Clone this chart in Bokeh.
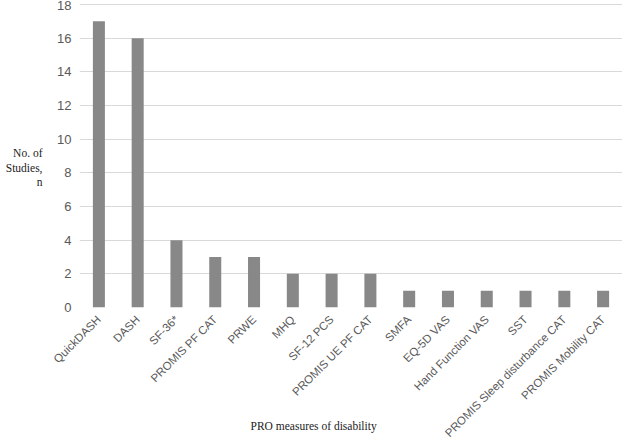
import math
from bokeh.plotting import figure
from bokeh.models import ColumnDataSource, FactorRange, Range1d, FixedTicker, LinearAxis
from bokeh.embed import file_html
from bokeh.resources import INLINE

measures = ["QuickDASH", "DASH", "SF-36*", "PROMIS PF CAT", "PRWE", "MHQ", "SF-12 PCS",
            "PROMIS UE PF CAT", "SMFA", "EQ-5D VAS", "Hand Function VAS", "SST",
            "PROMIS Sleep disturbance CAT", "PROMIS Mobility CAT"]
studies = [17, 16, 4, 3, 3, 2, 2, 2, 1, 1, 1, 1, 1, 1]
y_ticks = [0, 2, 4, 6, 8, 10, 12, 14, 16, 18]
y_title = "No. of\nStudies,\nn"
x_title = "PRO measures of disability"

src = ColumnDataSource(dict(x=measures, y=studies))

p = figure(width=622, height=443, x_range=FactorRange(*measures, range_padding=0),
           y_range=Range1d(0, 18.24), output_backend="svg", toolbar_location=None,
           min_border_left=79, min_border_right=0, min_border_top=0, min_border_bottom=136)
p.outline_line_color = None
p.vbar(x="x", top="y", width=0.31, source=src, fill_color="#888888", line_color=None)

p.xgrid.grid_line_color = None
p.ygrid.grid_line_color = "#d9d9d9"
p.ygrid.grid_line_width = 1
p.yaxis.ticker = FixedTicker(ticks=y_ticks)

title_axis = LinearAxis(ticker=FixedTicker(ticks=[8.3]),
                        major_label_overrides={8.3: y_title})
p.add_layout(title_axis, "left")

for ax in (p.xaxis[0], p.yaxis[0], title_axis):
    ax.axis_line_color = None
    ax.major_tick_line_color = None
    ax.minor_tick_line_color = None
    ax.major_label_text_color = "#595959"
    ax.major_label_text_font = "Liberation Sans"

title_axis.major_label_text_font = "Liberation Serif"
title_axis.major_label_text_color = "#222222"
title_axis.major_label_text_font_size = "11.5px"
title_axis.major_label_standoff = 6

p.yaxis[0].major_label_text_font_size = "13px"
p.yaxis[0].major_label_standoff = 2
p.xaxis.major_label_text_font_size = "11.5px"
p.xaxis.major_label_orientation = math.pi / 4
p.xaxis.major_label_standoff = 4
# trailing no-break spaces shift the centred title left, as in the reference
p.xaxis.axis_label = x_title + "\u00a0" * 26
p.xaxis.axis_label_text_font = "Liberation Serif"
p.xaxis.axis_label_text_font_style = "normal"
p.xaxis.axis_label_text_font_size = "11.5px"
p.xaxis.axis_label_text_color = "#222222"
p.xaxis.axis_label_standoff = -26

open("out.html", "w").write(file_html(p, INLINE))
